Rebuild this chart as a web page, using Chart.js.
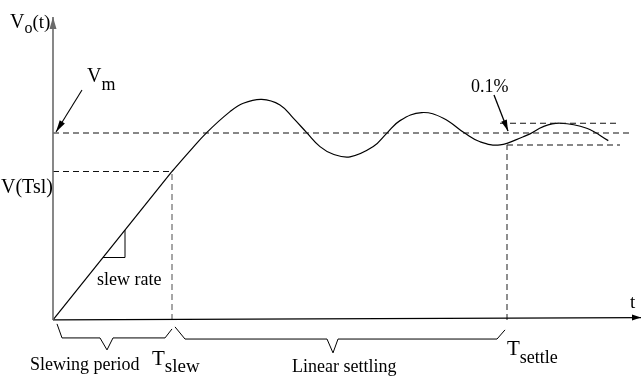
<!DOCTYPE html>
<html>
<head>
<meta charset="utf-8">
<script src="https://cdn.jsdelivr.net/npm/chart.js@4.4.0/dist/chart.umd.min.js"></script>
<style>
  html, body { margin:0; padding:0; background:#fff; }
  #wrap { width:642px; height:380px; }
</style>
</head>
<body>
<div id="wrap"><canvas id="chart"></canvas></div>
<script>
// Output voltage normalised so that Vm = 1, time in arbitrary units
const Vm = 1.0;
const VTsl = 0.794;
const Tslew = 1.19;
const Tsettle = 4.54;
const bandHi = 1.052;   // +0.1% band
const bandLo = 0.936;   // -0.1% band

// slewing part: straight ramp
const rampT = [0, 1.19];
const rampV = [0, 0.794];

// linear settling part
const settleT = [1.19, 1.37, 1.537, 1.77, 1.903, 2.087, 2.27, 2.403, 2.537, 2.67, 2.803, 2.97, 3.203, 3.337,
                 3.47, 3.687, 3.903, 4.12, 4.27, 4.47, 4.703, 4.77, 4.903, 5.07, 5.337, 5.553];
const settleV = [0.794, 0.904, 1.002, 1.114, 1.159, 1.180, 1.150, 1.079, 1.002, 0.927, 0.886, 0.872, 0.927, 0.998,
                 1.066, 1.109, 1.079, 0.998, 0.953, 0.936, 0.980, 0.995, 1.034, 1.052, 1.025, 0.959];

// braces under the time axis
const brace1T = [0.04, 0.09, 0.47, 0.54, 0.60, 1.12, 1.19];
const brace1V = [-0.021, -0.096, -0.096, -0.160, -0.096, -0.096, -0.048];
const brace2T = [1.22, 1.32, 2.74, 2.80, 2.85, 4.44, 4.52];
const brace2V = [-0.037, -0.102, -0.102, -0.176, -0.102, -0.102, -0.053];

// little slope triangle
const slopeT = [0.50, 0.72, 0.72];
const slopeV = [0.334, 0.334, 0.480];

const labelTexts = ['V', 'o', '(t)', 'm', 'V(Tsl)', 'slew rate', 't', '0.1%',
                    'Slewing period', 'T', 'slew', 'Linear settling', 'settle'];

const pts = (ts, vs) => ts.map((t, i) => ({ x: t, y: vs[i] }));
const serif = '"Liberation Serif", "Times New Roman", serif';

const line = (data, extra) => Object.assign({
  data, showLine: true, pointRadius: 0, borderColor: '#000', borderWidth: 1.2, tension: 0, fill: false
}, extra);

const arrowHeads = {
  id: 'arrowHeads',
  afterDatasetsDraw(chart) {
    const ctx = chart.ctx;
    chart.data.datasets.forEach((ds, i) => {
      if (!ds.arrow) return;
      const pts = chart.getDatasetMeta(i).data;
      const a = pts[pts.length - 2], b = pts[pts.length - 1];
      const ang = Math.atan2(b.y - a.y, b.x - a.x);
      const L = ds.arrow[0], W = ds.arrow[1];
      ctx.save();
      ctx.translate(b.x, b.y); ctx.rotate(ang);
      ctx.beginPath();
      ctx.moveTo(0, 0); ctx.lineTo(-L, -W); ctx.lineTo(-L, W); ctx.closePath();
      ctx.fillStyle = ds.borderColor; ctx.fill();
      ctx.restore();
    });
  }
};

const diagramText = {
  id: 'diagramText',
  afterDraw(chart, args, opts) {
    const ctx = chart.ctx, xs = chart.scales.x, ys = chart.scales.y;
    ctx.save();
    ctx.fillStyle = '#000';
    ctx.textBaseline = 'alphabetic';
    opts.items.forEach(it => {
      let x = xs.getPixelForValue(it.t);
      const y = ys.getPixelForValue(it.v);
      it.parts.forEach(p => {
        ctx.font = p.size + 'px ' + serif;
        ctx.fillText(p.s, x, y + (p.dy || 0));
        x += ctx.measureText(p.s).width;
      });
    });
    ctx.restore();
  }
};

const L = labelTexts;
const dash = { borderColor: '#111', borderWidth: 1.1, borderDash: [6, 4] };
new Chart(document.getElementById('chart'), {
  type: 'scatter',
  data: {
    datasets: [
      // axes
      line(pts([0, 0], [0, 1.620]), { borderColor: '#6a6a6a', borderWidth: 1.6, arrow: [12, 3.5] }),
      line(pts([0, 5.88], [0, 0.013]), { borderWidth: 1.3, arrow: [9, 3] }),
      // dashed guide lines
      line(pts([0, 5.78], [Vm, Vm]), dash),
      line(pts([0, Tslew], [VTsl, VTsl]), dash),
      line(pts([Tslew, Tslew], [0, VTsl]), { borderColor: '#777', borderWidth: 1.3, borderDash: [6, 4] }),
      line(pts([Tsettle, Tsettle], [0, bandLo]), { borderColor: '#444', borderWidth: 1.2, borderDash: [6, 4] }),
      line(pts([4.47, 5.64], [bandHi, bandHi]), dash),
      line(pts([Tsettle, 5.67], [bandLo, bandLo]), dash),
      // response
      line(pts(rampT, rampV), { borderWidth: 1.2 }),
      line(pts(settleT, settleV), { borderWidth: 1.2, tension: 0.4 }),
      // pointers
      line(pts([0.29, 0.03], [1.230, 1.005]), { borderWidth: 1.1, arrow: [12, 3] }),
      line(pts([4.41, 4.55], [1.203, 1.011]), { borderWidth: 1.3, arrow: [11, 3] }),
      // braces and slope mark
      line(pts(brace1T, brace1V), { borderWidth: 1 }),
      line(pts(brace2T, brace2V), { borderWidth: 1 }),
      line(pts(slopeT, slopeV), { borderWidth: 1 })
    ]
  },
  options: {
    responsive: true,
    maintainAspectRatio: false,
    animation: false,
    layout: { padding: 0 },
    events: [],
    scales: {
      x: { type: 'linear', display: false, min: -0.53, max: 5.89 },
      y: { type: 'linear', display: false, min: -0.321, max: 1.711 }
    },
    plugins: {
      legend: { display: false },
      tooltip: { enabled: false },
      diagramText: {
        items: [
          { t: -0.43, v: 1.561, parts: [{ s: L[0], size: 20 }, { s: L[1], size: 16, dy: 5 }, { s: L[2], size: 19 }] },
          { t: 0.34, v: 1.273, parts: [{ s: L[0], size: 20 }, { s: L[3], size: 18, dy: 8 }] },
          { t: -0.52, v: 0.679, parts: [{ s: L[4], size: 20 }] },
          { t: 0.44, v: 0.187, parts: [{ s: L[5], size: 18 }] },
          { t: 5.77, v: 0.064, parts: [{ s: L[6], size: 19 }] },
          { t: 4.18, v: 1.219, parts: [{ s: L[7], size: 18 }] },
          { t: -0.23, v: -0.267, parts: [{ s: L[8], size: 18 }] },
          { t: 0.99, v: -0.241, parts: [{ s: L[9], size: 21 }, { s: L[10], size: 19, dy: 7 }] },
          { t: 2.39, v: -0.278, parts: [{ s: L[11], size: 18 }] },
          { t: 4.54, v: -0.187, parts: [{ s: L[9], size: 21 }, { s: L[12], size: 18, dy: 8 }] }
        ]
      }
    }
  },
  plugins: [arrowHeads, diagramText]
});
</script>
</body>
</html>
